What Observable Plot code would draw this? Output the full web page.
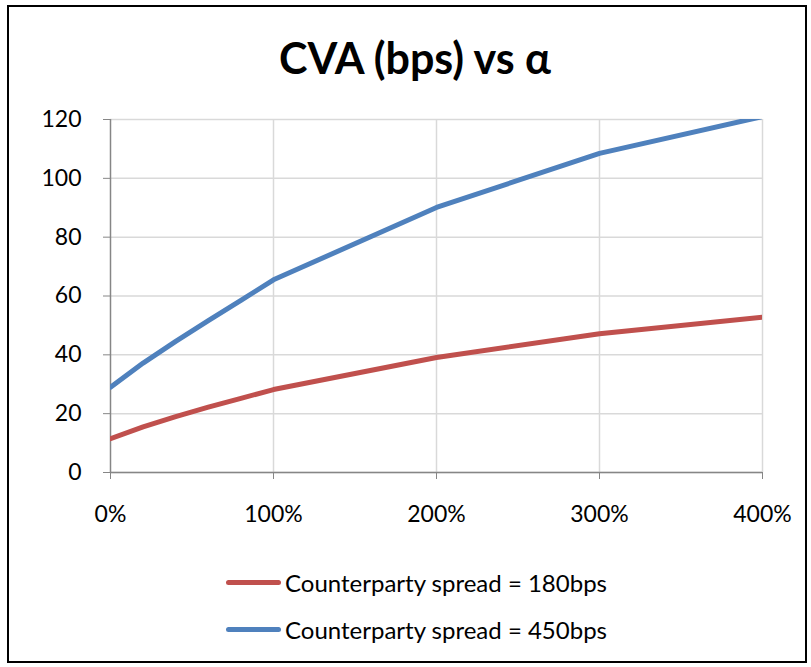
<!DOCTYPE html>
<html>
<head>
<meta charset="utf-8">
<script src="https://cdn.jsdelivr.net/npm/d3@7"></script>
<script src="https://cdn.jsdelivr.net/npm/@observablehq/plot@0.6"></script>
<style>
  html, body { margin: 0; padding: 0; background: #fff; }
  body { width: 811px; height: 667px; position: relative; overflow: hidden; font-family: Lato, "Open Sans", sans-serif; }
  #frame { position: absolute; left: 7px; top: 5px; width: 796px; height: 654px; border: 2px solid #000; }
  #title { position: absolute; left: 0; width: 830px; top: 32px; text-align: center; font-size: 43px; font-weight: bold; color: #000; line-height: 1.2; }
  #plot { position: absolute; left: 0; top: 90px; }
  .leg { position: absolute; left: 226px; height: 30px; display: flex; align-items: center; font-size: 24px; color: #000; }
  .sw { width: 55px; height: 5px; border-radius: 3px; margin-right: 4px; }
</style>
</head>
<body>
<div id="frame"></div>
<div id="title">CVA (bps) vs α</div>
<div id="plot"></div>
<div class="leg" style="top:567px"><div class="sw" style="background:#C0504D"></div><span>Counterparty spread = 180bps</span></div>
<div class="leg" style="top:614px"><div class="sw" style="background:#4F81BD"></div><span>Counterparty spread = 450bps</span></div>
<script>
const alpha = [0, 0.2, 0.4, 0.6, 0.8, 1, 2, 3, 4];
const cva180 = [11.5, 15.5, 19, 22.2, 25.2, 28.2, 39.1, 47.2, 52.8];
const cva450 = [29, 37.2, 44.6, 51.6, 58.5, 65.5, 90.1, 108.5, 121];
const seriesNames = ["Counterparty spread = 180bps", "Counterparty spread = 450bps"];
const seriesColors = ["#C0504D", "#4F81BD"];
const xTicks = [0, 1, 2, 3, 4];
const yTicks = [0, 20, 40, 60, 80, 100, 120];

const rows = [];
alpha.forEach((a, i) => {
  rows.push({alpha: a, cva: cva180[i], series: seriesNames[0]});
  rows.push({alpha: a, cva: cva450[i], series: seriesNames[1]});
});

const chart = Plot.plot({
  width: 811,
  height: 442,
  marginLeft: 110,
  marginRight: 49,
  marginTop: 29,
  marginBottom: 60,
  style: {fontFamily: "Lato, 'Open Sans', sans-serif", fontSize: "23px", color: "#000", background: "transparent"},
  x: {domain: [0, 4]},
  y: {domain: [0, 120]},
  color: {domain: seriesNames, range: seriesColors},
  marks: [
    Plot.gridY(yTicks, {stroke: "#d9d9d9", strokeOpacity: 1, strokeWidth: 1.5}),
    Plot.gridX(xTicks.slice(1), {stroke: "#d9d9d9", strokeOpacity: 1, strokeWidth: 1.5}),
    Plot.ruleX([0], {stroke: "#868686", strokeWidth: 1.5}),
    Plot.ruleY([0], {stroke: "#868686", strokeWidth: 1.5}),
    Plot.axisY({ticks: yTicks, tickSize: 7, tickPadding: 22, stroke: "#868686", label: null, fill: "#000"}),
    Plot.axisX({ticks: xTicks, tickSize: 7, tickPadding: 26, stroke: "#868686", label: null, fill: "#000", tickFormat: d => (d * 100) + "%"}),
    Plot.line(rows, {x: "alpha", y: "cva", z: "series", stroke: "series", strokeWidth: 5, clip: true, strokeLinecap: "round", strokeLinejoin: "round"})
  ]
});
document.getElementById("plot").appendChild(chart);
</script>
</body>
</html>
